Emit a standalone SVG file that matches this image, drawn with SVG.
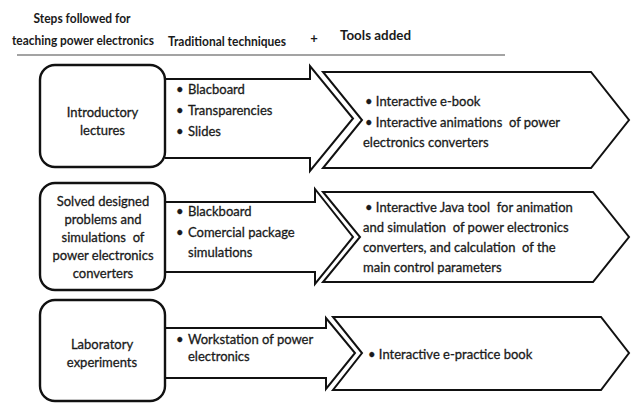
<svg xmlns="http://www.w3.org/2000/svg" width="631" height="404" viewBox="0 0 631 404">
  <style>
    .hd { font-family: Lato, "Liberation Sans", sans-serif; font-weight: bold; font-size: 13px; fill: #1a1a1a; }
    .tx { font-family: Lato, "Liberation Sans", sans-serif; font-size: 13px; fill: #1a1a1a; stroke: #1a1a1a; stroke-width: 0.3; white-space: pre; }
    .mid { text-anchor: middle; }
    .box { fill: #ffffff; stroke: #111111; stroke-width: 2.4; }
    .arw { fill: #ffffff; stroke: #111111; stroke-width: 2; stroke-linejoin: miter; }
    .chev { fill: #ffffff; stroke: #111111; stroke-width: 2; stroke-linejoin: miter; }
  </style>

  <!-- column headings -->
  <g id="header">
    <text class="hd mid" x="82" y="23" textLength="97" lengthAdjust="spacingAndGlyphs">Steps followed for</text>
    <text class="hd" x="12" y="45" textLength="142" lengthAdjust="spacingAndGlyphs">teaching power electronics</text>
    <text class="hd" x="168" y="45.5" textLength="118" lengthAdjust="spacingAndGlyphs">Traditional techniques</text>
    <text class="hd mid" x="314" y="43">+</text>
    <text class="hd" x="340" y="40" font-size="15" textLength="71" lengthAdjust="spacingAndGlyphs">Tools added</text>
    <line x1="17" y1="55" x2="505" y2="55" stroke="#a3a3a3" stroke-width="2"/>
  </g>

  <!-- row 1: introductory lectures -->
  <g id="tech-1">
    <path class="arw" d="M165,79 H310 V66 L353,118.5 L310,171 V158 H165"/>
    <text class="tx" x="176" y="93.5">•</text>
    <text class="tx" x="188" y="93.5">Blacboard</text>
    <text class="tx" x="176" y="114.5">•</text>
    <text class="tx" x="188" y="114.5">Transparencies</text>
    <text class="tx" x="176" y="135.5">•</text>
    <text class="tx" x="188" y="135.5">Slides</text>
  </g>
  <g id="tool-1">
    <path class="chev" d="M323,72 H591 L629,120 L591,168 H323 L362,120 Z"/>
    <text class="tx" x="365" y="106">• Interactive e-book</text>
    <text class="tx" x="365" y="127">• Interactive animations  of power</text>
    <text class="tx" x="363" y="147">electronics converters</text>
  </g>
  <g id="step-1">
    <rect class="box" x="40" y="65" width="125" height="102" rx="15"/>
    <text class="tx mid" x="102.5" y="117">Introductory</text>
    <text class="tx mid" x="102.5" y="135">lectures</text>
  </g>

  <!-- row 2: solved problems and simulations -->
  <g id="tech-2">
    <path class="arw" d="M165,202 H315 V189 L353,237 L315,284 V272 H165"/>
    <text class="tx" x="176" y="216">•</text>
    <text class="tx" x="188" y="216">Blackboard</text>
    <text class="tx" x="176" y="237">•</text>
    <text class="tx" x="188" y="237">Comercial package</text>
    <text class="tx" x="188" y="257">simulations</text>
  </g>
  <g id="tool-2">
    <path class="chev" d="M323,192 H593 L629,237 L593,282 H323 L360,237 Z"/>
    <text class="tx" x="365" y="212">• Interactive Java tool  for animation</text>
    <text class="tx" x="363" y="232">and simulation  of power electronics</text>
    <text class="tx" x="363" y="252">converters, and calculation  of the</text>
    <text class="tx" x="363" y="272">main control parameters</text>
  </g>
  <g id="step-2">
    <rect class="box" x="40" y="183" width="125" height="107" rx="15"/>
    <text class="tx mid" x="103" y="206">Solved designed</text>
    <text class="tx mid" x="103" y="224">problems and</text>
    <text class="tx mid" x="103" y="242">simulations  of</text>
    <text class="tx mid" x="103" y="260">power electronics</text>
    <text class="tx mid" x="103" y="278">converters</text>
  </g>

  <!-- row 3: laboratory experiments -->
  <g id="tech-3">
    <path class="arw" d="M165,328 H326 V318 L355,353 L326,389 V378 H165"/>
    <text class="tx" x="176" y="344">•</text>
    <text class="tx" x="188" y="344">Workstation of power</text>
    <text class="tx" x="188" y="361">electronics</text>
  </g>
  <g id="tool-3">
    <path class="chev" d="M333,317 H601 L629,353 L601,390 H333 L362,353 Z"/>
    <text class="tx" x="368" y="359">• Interactive e-practice book</text>
  </g>
  <g id="step-3">
    <rect class="box" x="40" y="300" width="125" height="101" rx="15"/>
    <text class="tx mid" x="102" y="349">Laboratory</text>
    <text class="tx mid" x="102" y="367">experiments</text>
  </g>
</svg>
